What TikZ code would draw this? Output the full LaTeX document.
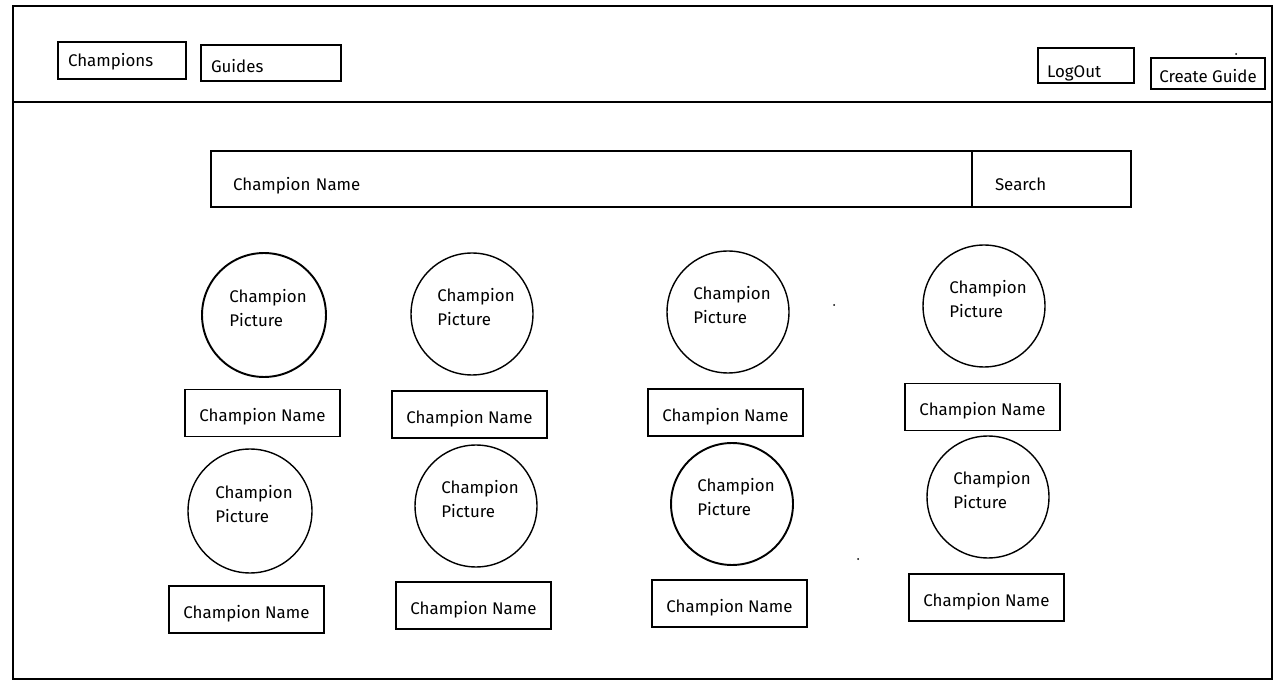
\documentclass[tikz,border=0pt]{standalone}
\usepackage{fontspec}
\setmainfont{Fira Sans}
\newcommand{\champpic}{\hspace*{0.16cm}Champion\\\hspace*{0.16cm}Picture}
\begin{document}
\begin{tikzpicture}[x=0.02cm, y=-0.02cm,
    every node/.style={font=\fontsize{9.6pt}{13.6pt}\selectfont},
    drop/.style={text height=#1, text depth=0.25em},
    tab/.style={draw, line width=1.1pt, rectangle, align=left, inner xsep=0.2cm, inner ysep=0pt},
    bar/.style={draw, line width=0.7pt, rectangle, align=left, minimum height=1.12cm, inner ysep=0pt, drop=1.58em},
    portrait/.style={draw, line width=0.8pt, circle, align=left, inner sep=0pt, minimum size=2.44cm, text depth=0.82em},
    namebox/.style={draw, line width=0.8pt, rectangle, inner sep=0pt, minimum width=3.1cm, minimum height=0.94cm, drop=1.22em}]
    \useasboundingbox[fill=white] (0,0) rectangle (1281,685);

    % page frame and header
    \draw[line width=1.6pt] (13,6) rectangle (1272,679);
    \draw[line width=1.6pt] (13,102) -- (1272,102);

    \node[tab, text width=2.16cm, minimum height=0.74cm, drop=0.98em] (champions) at (122,60.5) {Champions};
    \node[tab, text width=2.4cm, minimum height=0.72cm, drop=1.35em] (guides) at (271,63) {Guides};
    \node[tab, line width=0.7pt, inner xsep=0.18cm, text width=1.56cm, minimum height=0.7cm, drop=1.58em] (logout) at (1086,65.5) {LogOut};
    \node[tab, line width=0.7pt, inner xsep=0.1cm, minimum width=2.28cm, minimum height=0.62cm, drop=1.27em] (create) at (1208,73.5) {Create Guide};

    % search bar
    \node[bar, inner xsep=0.44cm, text width=14.34cm] (field) at (591.5,179) {Champion Name};
    \node[bar, inner xsep=0.46cm, text width=2.26cm] (search) at (1051.5,179) {Search};

    % first row
    \node[portrait, line width=1.1pt, minimum size=2.48cm] (p11) at (264,315) {\champpic};
    \node[portrait] (p12) at (472,314) {\champpic};
    \node[portrait] (p13) at (728,312) {\champpic};
    \node[portrait] (p14) at (984,306) {\champpic};
    \node[namebox, line width=1.1pt] (n11) at (262.5,413) {Champion Name};
    \node[namebox] (n12) at (469.5,414.5) {Champion Name};
    \node[namebox] (n13) at (725.5,412.5) {Champion Name};
    \node[namebox] (n14) at (982.5,407) {Champion Name};

    % second row
    \node[portrait, minimum size=2.48cm] (p21) at (250,511) {\champpic};
    \node[portrait] (p22) at (476,506) {\champpic};
    \node[portrait, line width=1.1pt] (p23) at (732,504) {\champpic};
    \node[portrait] (p24) at (988,497) {\champpic};
    \node[namebox] (n21) at (246.5,609.5) {Champion Name};
    \node[namebox] (n22) at (473.5,605.5) {Champion Name};
    \node[namebox] (n23) at (729.5,603.5) {Champion Name};
    \node[namebox] (n24) at (986.5,597.5) {Champion Name};

    % stray dots
    \fill (1236,54) circle (1);
    \fill (834,305) circle (1);
    \fill (858,559) circle (1);
\end{tikzpicture}
\end{document}
